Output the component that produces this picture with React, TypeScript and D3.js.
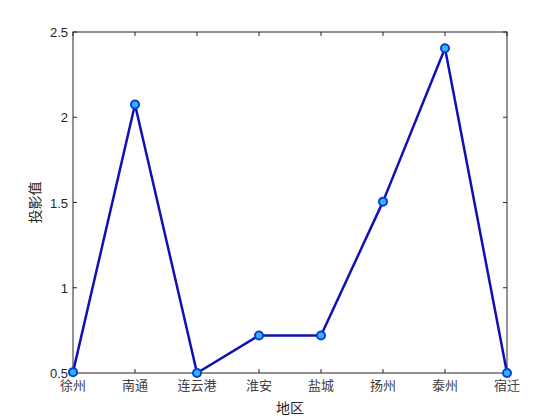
import React from "react";
import * as d3 from "d3";

const width = 560;
const height = 420;
const margin = { top: 32, right: 53, bottom: 47, left: 73 };

// 地区 and 投影值
const regions = ["徐州", "南通", "连云港", "淮安", "盐城", "扬州", "泰州", "宿迁"];
const values = [0.505, 2.075, 0.5, 0.72, 0.72, 1.505, 2.405, 0.5];
const yTicks = [0.5, 1, 1.5, 2, 2.5];

const App = () => {
  const x = d3
    .scalePoint()
    .domain(regions)
    .range([margin.left, width - margin.right]);
  const y = d3
    .scaleLinear()
    .domain([0.5, 2.5])
    .range([height - margin.bottom, margin.top]);

  const points = regions.map((r, i) => ({ r, v: values[i] }));
  const line = d3
    .line()
    .x((d) => x(d.r))
    .y((d) => y(d.v))(points);

  const x0 = margin.left;
  const x1 = width - margin.right;
  const y0 = height - margin.bottom;
  const y1 = margin.top;
  const tickLen = 4;
  const numFont = "'Liberation Sans', Arial, sans-serif";
  const cjkFont = "'Noto Sans CJK SC', sans-serif";

  return (
    <svg
      width={width}
      height={height}
      style={{ position: "absolute", left: 0, top: 0, background: "#fff" }}
    >
      <rect x={0} y={0} width={width} height={height} fill="#fff" />
      {/* box */}
      <rect x={x0} y={y1} width={x1 - x0} height={y0 - y1} fill="none" stroke="#262626" strokeWidth={1} />
      {/* x ticks */}
      {regions.map((r) => (
        <g key={r}>
          <line x1={x(r)} x2={x(r)} y1={y0} y2={y0 - tickLen} stroke="#262626" />
          <line x1={x(r)} x2={x(r)} y1={y1} y2={y1 + tickLen} stroke="#262626" />
          <text
            x={x(r)}
            y={y0 + 17}
            textAnchor="middle"
            fontSize={13}
            fontFamily={cjkFont}
            fill="#404040"
          >
            {r}
          </text>
        </g>
      ))}
      {/* y ticks */}
      {yTicks.map((t) => (
        <g key={t}>
          <line x1={x0} x2={x0 + tickLen} y1={y(t)} y2={y(t)} stroke="#262626" />
          <line x1={x1} x2={x1 - tickLen} y1={y(t)} y2={y(t)} stroke="#262626" />
          <text
            x={x0 - 5}
            y={y(t) + 5}
            textAnchor="end"
            fontSize={13}
            fontFamily={numFont}
            fill="#262626"
          >
            {t}
          </text>
        </g>
      ))}
      <text
        x={(x0 + x1) / 2}
        y={413}
        textAnchor="middle"
        fontSize={14}
        fontFamily={cjkFont}
        fill="#262626"
      >
        地区
      </text>
      <text
        transform={`translate(40, ${(y0 + y1) / 2}) rotate(-90)`}
        textAnchor="middle"
        fontSize={14}
        fontFamily={cjkFont}
        fill="#262626"
      >
        投影值
      </text>
      <path d={line} fill="none" stroke="#1010b4" strokeWidth={2.5} strokeLinejoin="round" />
      {points.map((d) => (
        <circle
          key={d.r}
          cx={x(d.r)}
          cy={y(d.v)}
          r={4}
          fill="#33b5ff"
          stroke="#0a3fd8"
          strokeWidth={2}
        />
      ))}
    </svg>
  );
};

export default App;
